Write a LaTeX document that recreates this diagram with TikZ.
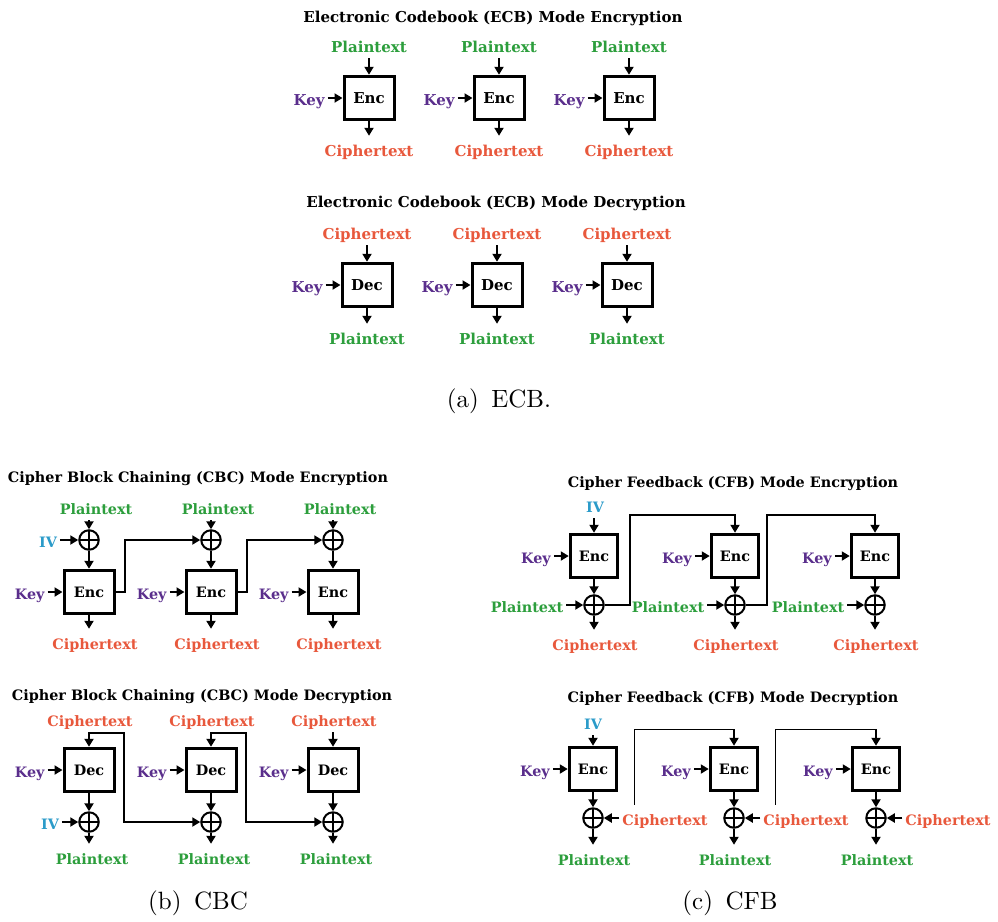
\documentclass[tikz,border=0pt]{standalone}
\usepackage{fontspec}
\usetikzlibrary{arrows.meta,positioning}
\newfontfamily\dfont{DejaVu Serif}
\definecolor{cpt}{RGB}{44,158,60}
\definecolor{cct}{RGB}{232,88,60}
\definecolor{ckey}{RGB}{90,46,140}
\definecolor{civ}{RGB}{43,155,201}
\newcommand\fsz{6}

\begin{document}
\begin{tikzpicture}[
  x=0.4pt,y=-0.4pt,
  lbl/.style={inner sep=1pt,text height=1.6ex,text depth=0.3ex,font=\dfont\bfseries\fontsize{\fsz}{7}\selectfont},
  ttl/.style={lbl,text=black},
  ptx/.style={lbl,text=cpt},
  ctx/.style={lbl,text=cct},
  kee/.style={lbl,text=ckey},
  ivl/.style={lbl,text=civ},
  blk/.style={draw,line width=1.2pt,minimum width=20pt,minimum height=17.4pt,inner sep=0pt,
    font=\dfont\bfseries\fontsize{\fsz}{7}\selectfont},
  xor/.style={draw,circle,line width=0.8pt,minimum size=7.8pt,inner sep=0pt,
    path picture={\draw[line width=0.8pt] (path picture bounding box.north) -- (path picture bounding box.south)
      (path picture bounding box.west) -- (path picture bounding box.east);}},
  arr/.style={-{Triangle[length=3.2pt,width=3.6pt]},line width=0.8pt},
  capt/.style={font=\normalsize}
]
\useasboundingbox (0,0) rectangle (998,921);

% ================= ECB encryption =================
\node[ttl] (ecbe) at (493,15) {Electronic Codebook (ECB) Mode Encryption};
\foreach \x [count=\i] in {369,499,629} {
  \node[blk] (ee\i) at (\x,98) {Enc};
  \node[ptx] (eep\i) at (\x,45) {Plaintext};
  \node[ctx] (eec\i) at (\x,149) {Ciphertext};
  \node[kee,left=6pt of ee\i] (eek\i) {Key};
  \draw[arr] (eep\i) -- (ee\i);
  \draw[arr] (ee\i) -- (eec\i);
  \draw[arr] (eek\i) -- (ee\i);
}

% ================= ECB decryption =================
\node[ttl] (ecbd) at (496,200) {Electronic Codebook (ECB) Mode Decryption};
\foreach \x [count=\i] in {367,497,627} {
  \node[blk] (ed\i) at (\x,285) {Dec};
  \node[ctx] (edc\i) at (\x,232) {Ciphertext};
  \node[ptx] (edp\i) at (\x,337) {Plaintext};
  \node[kee,left=6pt of ed\i] (edk\i) {Key};
  \draw[arr] (edc\i) -- (ed\i);
  \draw[arr] (ed\i) -- (edp\i);
  \draw[arr] (edk\i) -- (ed\i);
}
\node[capt] (capa) at (499,401) {(a)\enspace ECB.};

\begin{scope}
\renewcommand\fsz{5.75}
% ================= CBC encryption =================
\node[ttl] (cbce) at (198,475) {Cipher Block Chaining (CBC) Mode Encryption};
\foreach \x [count=\i] in {89,211,333} {
  \node[xor] (cx\i) at (\x,540) {};
  \node[blk] (ce\i) at (\x,592) {Enc};
  \node[ptx] (cep\i) at (\x+7,507) {Plaintext};
  \node[ctx] (cec\i) at (\x+6,642) {Ciphertext};
  \node[kee,left=6pt of ce\i] (cek\i) {Key};
  \draw[arr] (cep\i.south -| cx\i) -- (cx\i);
  \draw[arr] (cx\i) -- (ce\i);
  \draw[arr] (ce\i) -- (cec\i.north -| ce\i);
  \draw[arr] (cek\i) -- (ce\i);
}
\node[ivl] (civ) at (48,540) {IV};
\draw[arr] (civ) -- (cx1);
\draw[arr] (ce1.east) -- ++(9,0) |- (cx2);
\draw[arr] (ce2.east) -- ++(9,0) |- (cx3);

% ================= CBC decryption =================
\node[ttl] (cbcd) at (202,693) {Cipher Block Chaining (CBC) Mode Decryption};
\foreach \x [count=\i] in {89,211,333} {
  \node[blk] (cd\i) at (\x,770) {Dec};
  \node[xor] (dx\i) at (\x,822) {};
  \node[ctx] (cdc\i) at (\x+1,719) {Ciphertext};
  \node[ptx] (cdp\i) at (\x+3,857) {Plaintext};
  \node[kee,left=6pt of cd\i] (cdk\i) {Key};
  \coordinate (fb\i) at (\x,733);
  \draw[arr] (cdc\i.south -| cd\i) -- (cd\i);
  \draw[arr] (cd\i) -- (dx\i);
  \draw[arr] (dx\i) -- (cdp\i.north -| dx\i);
  \draw[arr] (cdk\i) -- (cd\i);
}
\node[ivl] (div) at (50,822) {IV};
\draw[arr] (div) -- (dx1);
\draw[arr] (fb1) -- ++(35,0) |- (dx2);
\draw[arr] (fb2) -- ++(35,0) |- (dx3);

% ================= CFB encryption =================
\node[ttl] (cfbe) at (733,480) {Cipher Feedback (CFB) Mode Encryption};
\foreach \x [count=\i] in {594,735,875} {
  \node[blk,minimum width=19pt] (fe\i) at (\x,556) {Enc};
  \node[xor] (fx\i) at (\x,605) {};
  \node[ptx] (fep\i) at (\x-67,605) {Plaintext};
  \node[ctx] (fec\i) at (\x+1,643) {Ciphertext};
  \node[kee,left=6pt of fe\i] (fek\i) {Key};
  \coordinate (ft\i) at (\x,515);
  \draw[arr] (fe\i) -- (fx\i);
  \draw[arr] (fep\i) -- (fx\i);
  \draw[arr] (fx\i) -- (fec\i.north -| fx\i);
  \draw[arr] (fek\i) -- (fe\i);
}
\node[ivl] (fiv) at (595,505) {IV};
\draw[arr] (fiv.south -| fe1) -- (fe1);
\draw[arr] (fx1.east) -- ++(25,0) |- (ft2) -- (fe2);
\draw[arr] (fx2.east) -- ++(21,0) |- (ft3) -- (fe3);

% ================= CFB decryption =================
\node[ttl] (cfbd) at (733,695) {Cipher Feedback (CFB) Mode Decryption};
\foreach \x [count=\i] in {593,734,876} {
  \node[blk,minimum width=19pt] (ge\i) at (\x,769) {Enc};
  \node[xor] (gx\i) at (\x,818) {};
  \node[ctx] (gc\i) at (\x+72,818) {Ciphertext};
  \node[ptx] (gp\i) at (\x+1,858) {Plaintext};
  \node[kee,left=6pt of ge\i] (gk\i) {Key};
  \coordinate (gt\i) at (\x,729);
  \draw[arr] (ge\i) -- (gx\i);
  \draw[arr] (gc\i) -- (gx\i);
  \draw[arr] (gx\i) -- (gp\i.north -| gx\i);
  \draw[arr] (gk\i) -- (ge\i);
}
\node[ivl] (giv) at (593,722) {IV};
\draw[arr] (giv) -- (ge1);
\draw ([xshift=6pt]gc1.north west) |- (gt2);
\draw[arr] (gt2) -- (ge2);
\draw ([xshift=6pt]gc2.north west) |- (gt3);
\draw[arr] (gt3) -- (ge3);
\end{scope}

\node[capt] (capb) at (198,903) {(b)\enspace CBC};
\node[capt] (capc) at (730,903) {(c)\enspace CFB};
\end{tikzpicture}
\end{document}
